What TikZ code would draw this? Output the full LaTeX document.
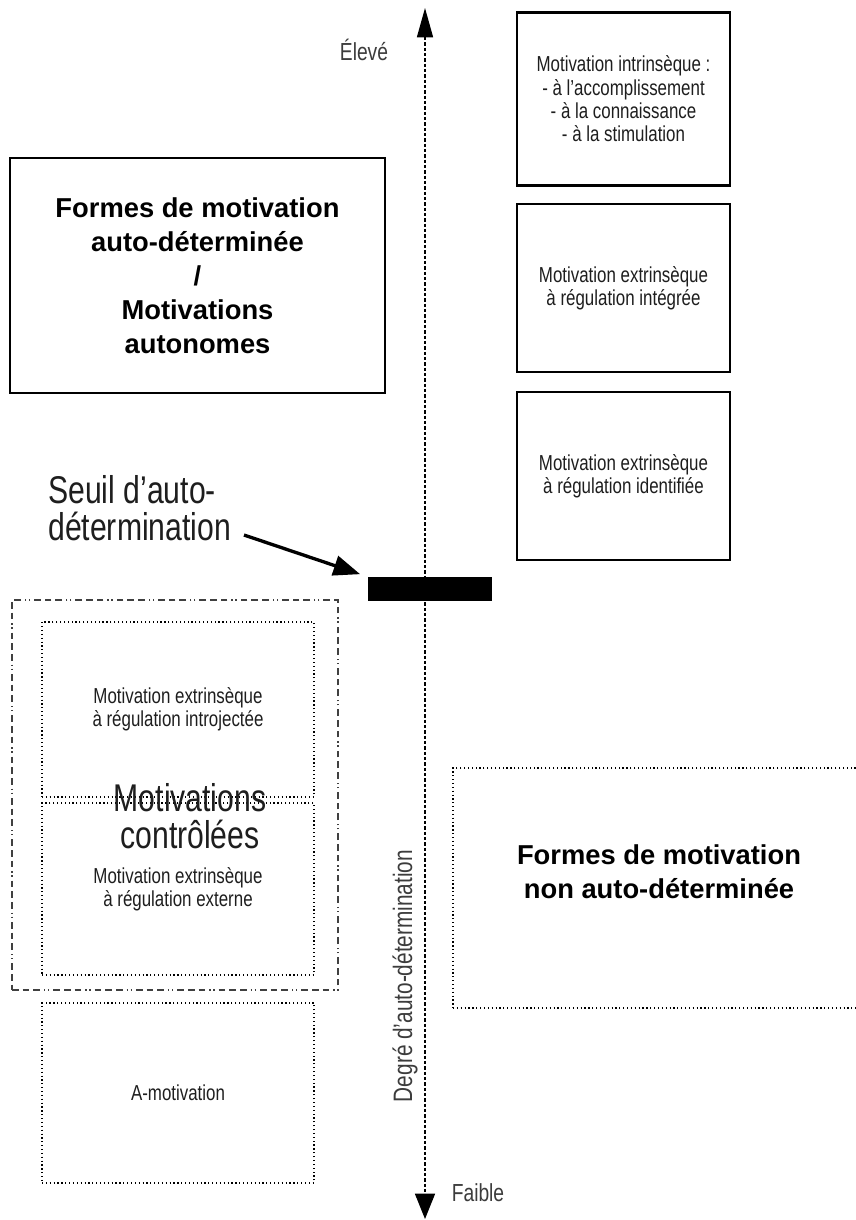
\documentclass[tikz,border=0pt]{standalone}
\usepackage{fontspec}
\setmainfont{Liberation Sans}
\newfontfamily\narrowfont{Liberation Sans}[FakeStretch=0.78]
\usetikzlibrary{arrows.meta}

\definecolor{txtgray}{HTML}{1E1E1E}
\definecolor{lblgray}{HTML}{3C3C3C}

\tikzset{
  thickbox/.style={draw,line width=2.2pt,inner sep=0pt,align=center},
  dotbox/.style={draw,dotted,line width=0.9pt,inner sep=0pt,align=center},
  ctrlbox/.style={draw,line width=0.8pt,black!75,inner sep=0pt,
    dash pattern=on 5pt off 3pt on 5pt off 3pt on 5pt off 3pt on 1pt off 2pt on 1pt off 3pt},
  smalltxt/.style={font=\narrowfont\fontsize{16.25}{17.5}\selectfont,text=txtgray},
  boldtxt/.style={font=\fontsize{20.5}{25.5}\selectfont\bfseries,align=center},
  bigtxt/.style={font=\narrowfont\fontsize{29}{27.75}\selectfont,text=txtgray,inner sep=0pt},
  axislbl/.style={font=\narrowfont\fontsize{18.5}{20}\selectfont,text=lblgray,inner sep=0pt}
}

\begin{document}
\begin{tikzpicture}[x=0.75pt,y=-0.75pt]
  \useasboundingbox (0,0) rectangle (856,1220);

  % Threshold bar
  \node[fill=black,minimum width=93pt,minimum height=18pt,inner sep=0pt] (bar) at (430,589) {};

  % Axis
  \coordinate (top) at (425,8);
  \coordinate (bot) at (425,1219);
  \draw[line width=1.1pt,dash pattern=on 2.5pt off 1.5pt,
    {Triangle[length=22pt,width=12pt]}-{Triangle[length=19pt,width=15pt]}] (top) -- (bot);
  \node[axislbl] (eleve) at (364,50) {Élevé};
  \node[axislbl] (faible) at (478,1193) {Faible};
  \node[axislbl,font=\narrowfont\fontsize{20}{20}\selectfont,rotate=90] (degre) at (405,976) {Degré d’auto-détermination};

  % Self-determined forms (right column)
  \node[thickbox,smalltxt,minimum width=159.75pt,minimum height=129.75pt] (intr) at (623.5,99)
    {Motivation intrinsèque :\\- à l’accomplissement\\- à la connaissance\\- à la stimulation};
  \node[thickbox,smalltxt,minimum width=159.75pt,minimum height=126pt] (integ) at (623.5,288)
    {Motivation extrinsèque\\à régulation intégrée};
  \node[thickbox,smalltxt,minimum width=159.75pt,minimum height=126pt] (ident) at (623.5,476)
    {Motivation extrinsèque\\à régulation identifiée};

  \node[thickbox,boldtxt,minimum width=281.25pt,minimum height=176.25pt] (autonome) at (197.5,275.5)
    {Formes de motivation\\auto-déterminée\\/\\Motivations\\autonomes};

  % Threshold label
  \node[bigtxt,align=left,anchor=west] (seuil) at (48,508) {Seuil d’auto-\\détermination};
  \coordinate (seuiltail) at (244,535);
  \draw[line width=2.5pt,-{Triangle[length=20pt,width=15pt]},shorten >=6pt] (seuiltail) -- (bar.north west);

  % Non self-determined forms (left column)
  \node[ctrlbox,minimum width=244.5pt,minimum height=292.5pt] (ctrl) at (175,795) {};
  \node[dotbox,smalltxt,minimum width=204pt,minimum height=131.25pt] (introj) at (178,709.5)
    {Motivation extrinsèque\\à régulation introjectée};
  \node[dotbox,smalltxt,minimum width=204pt,minimum height=129pt] (extern) at (178,889)
    {Motivation extrinsèque\\à régulation externe};
  \node[dotbox,smalltxt,minimum width=204pt,minimum height=135pt] (amot) at (178,1093)
    {A-motivation};
  \node[bigtxt,align=center] (ctrltxt) at (190,816) {Motivations\\contrôlées};

  \node[dotbox,minimum width=307.5pt,minimum height=180pt] (nonauto) at (658,888) {};
  \node[boldtxt] (nonautotxt) at (659,872) {Formes de motivation\\non auto-déterminée};

\end{tikzpicture}
\end{document}
